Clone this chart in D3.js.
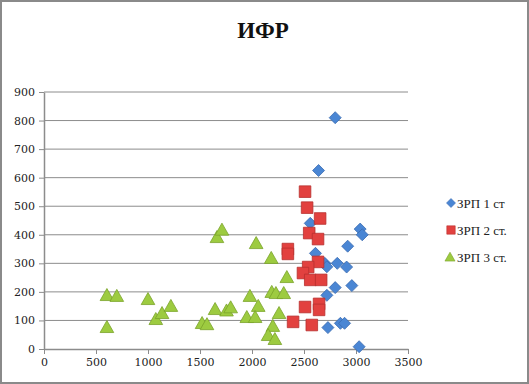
<!DOCTYPE html>
<html><head><meta charset="utf-8">
<script src="https://cdn.jsdelivr.net/npm/d3@7"></script>
<style>body{margin:0;background:#fff}svg{display:block}</style>
</head><body>
<svg id="c" width="529" height="384"></svg>
<script>
const title = "ИФР";
const seriesNames = ["ЗРП 1 ст", "ЗРП 2 ст.", "ЗРП 3 ст."];
const xTicks = [0, 500, 1000, 1500, 2000, 2500, 3000, 3500];
const yTicks = [0, 100, 200, 300, 400, 500, 600, 700, 800, 900];
const s1x = [2800, 2640, 2560, 3040, 3060, 2920, 2610, 2700, 2720, 2820, 2910, 2960, 2800, 2720, 2730, 2850, 2890, 3030];
const s1y = [810, 625, 440, 420, 400, 360, 335, 300, 288, 300, 287, 222, 215, 188, 75, 90, 90, 8];
const s2x = [2510, 2530, 2655, 2550, 2635, 2345, 2345, 2635, 2540, 2490, 2560, 2665, 2510, 2645, 2645, 2395, 2575];
const s2y = [551, 495, 457, 406, 385, 350, 333, 305, 287, 266, 242, 242, 147, 158, 137, 95, 84];
const s3x = [605, 700, 1000, 605, 1075, 1135, 1220, 1520, 1567, 1645, 1663, 1711, 1755, 1795, 1980, 2040, 2060, 1950, 2030, 2185, 2190, 2230, 2305, 2335, 2260, 2200, 2155, 2220];
const s3y = [189, 186, 175, 77, 105, 126, 151, 91, 87, 140, 392, 418, 135, 146, 186, 371, 151, 112, 112, 319, 200, 196, 196, 252, 126, 81, 49, 35];

const svg = d3.select("#c");
const W = 529, H = 384;
svg.append("rect").attr("x",1).attr("y",1).attr("width",W-2).attr("height",H-2)
  .attr("fill","#fff").attr("stroke","#8a8a8a").attr("stroke-width",2);

const L = 44, R = 408, T = 92, B = 349;
const x = d3.scaleLinear().domain([0,3500]).range([L,R]);
const y = d3.scaleLinear().domain([0,900]).range([B,T]);

svg.append("text").attr("x",263).attr("y",38).attr("text-anchor","middle")
  .attr("font-family","Liberation Serif, serif").attr("font-weight","bold")
  .attr("font-size",23).attr("fill","#111").text(title);

svg.append("g").selectAll("line").data(yTicks.filter(d=>d>0)).join("line")
  .attr("x1",L).attr("x2",R).attr("y1",d=>y(d)).attr("y2",d=>y(d))
  .attr("stroke","#8c8c8c").attr("stroke-width",1);

const fontAx = "DejaVu Serif, serif";
const fmt = d3.format("d");
const gy = svg.append("g").attr("transform",`translate(${L},0)`)
  .call(d3.axisLeft(y).tickValues(yTicks).tickFormat(fmt).tickSize(5).tickPadding(3).tickSizeOuter(0));
const gx = svg.append("g").attr("transform",`translate(0,${B})`)
  .call(d3.axisBottom(x).tickValues(xTicks).tickFormat(fmt).tickSize(5).tickPadding(4).tickSizeOuter(0));
[gx, gy].forEach(g=>{
  g.select(".domain").attr("stroke","#8c8c8c").attr("stroke-width",1.5);
  g.selectAll(".tick line").attr("stroke","#8c8c8c");
  g.selectAll("text").attr("font-family",fontAx).attr("font-size",11).attr("fill","#222");
});
gy.selectAll("text").attr("dx",-1);

function diamondPath(r){ return `M0,${-r}L${r},0L0,${r}L${-r},0Z`; }
function squarePath(r){ return `M${-r},${-r}H${r}V${r}H${-r}Z`; }
function triPath(r){ return `M0,${-r}L${r*1.05},${r*0.85}L${-r*1.05},${r*0.85}Z`; }

const styles = [
  {path: diamondPath(6), lp: diamondPath(4.5), fill: "#4a86d4", stroke: "#3a6bb0"},
  {path: squarePath(5.8), lp: squarePath(4.2), fill: "#e2413f", stroke: "#b8302e"},
  {path: triPath(6.5), lp: triPath(4.8), fill: "#9dcb40", stroke: "#7aa32a"}
];
const data = [[s1x,s1y],[s2x,s2y],[s3x,s3y]];
data.forEach(([xs,ys],i)=>{
  const st = styles[i];
  svg.append("g").selectAll("path").data(xs.map((v,k)=>[v,ys[k]])).join("path")
    .attr("d", st.path)
    .attr("transform",d=>`translate(${x(d[0])},${y(d[1])})`)
    .attr("fill",st.fill).attr("stroke",st.stroke).attr("stroke-width",0.8);
});

const lg = svg.append("g");
const legY = [208, 235, 262];
seriesNames.forEach((n,i)=>{
  lg.append("path").attr("d",styles[i].lp).attr("transform",`translate(${i===2?450:451},${legY[i]-5})`)
    .attr("fill",styles[i].fill).attr("stroke",styles[i].stroke).attr("stroke-width",0.6);
  lg.append("text").attr("x",457).attr("y",legY[i]).attr("font-family","Liberation Serif, serif")
    .attr("font-size",13).attr("fill","#222").text(n);
});
</script>
</body></html>
